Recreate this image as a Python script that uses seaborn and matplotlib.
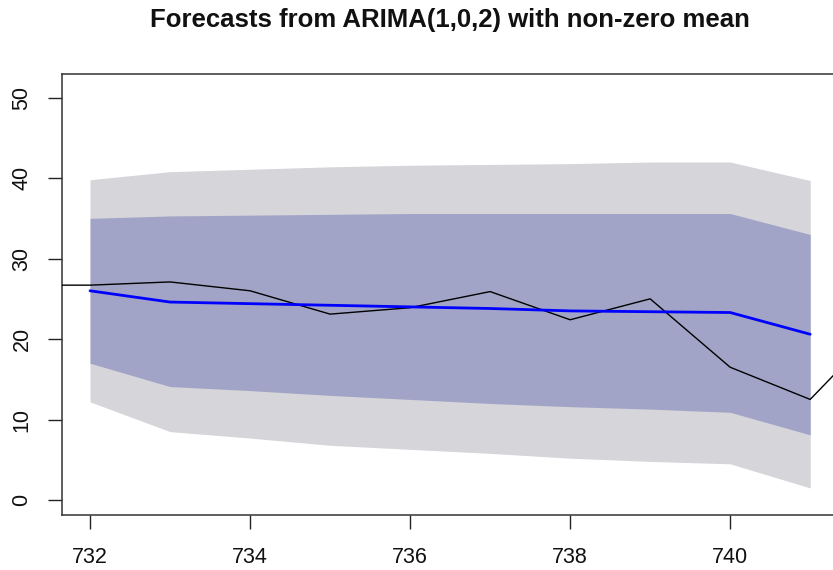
import matplotlib
matplotlib.use("Agg")
import matplotlib.pyplot as plt
import seaborn as sns
import pandas as pd

# Observed series
obs_time = [731, 732, 733, 734, 735, 736, 737, 738, 739, 740, 741, 742]
obs_value = [26.7, 26.7, 27.1, 26.0, 23.1, 23.9, 25.9, 22.4, 25.0, 16.5, 12.5, 22.8]

# Forecast horizon with point forecasts and prediction intervals
fc_time = [732, 733, 734, 735, 736, 737, 738, 739, 740, 741]
fc_mean = [26.0, 24.6, 24.4, 24.2, 24.0, 23.8, 23.5, 23.4, 23.3, 20.6]
lo80 = [17.0, 14.1, 13.6, 13.0, 12.5, 12.0, 11.6, 11.3, 10.9, 8.1]
hi80 = [35.0, 35.3, 35.4, 35.5, 35.6, 35.6, 35.6, 35.6, 35.6, 33.0]
lo95 = [12.2, 8.5, 7.7, 6.8, 6.3, 5.8, 5.2, 4.8, 4.5, 1.5]
hi95 = [39.8, 40.8, 41.1, 41.4, 41.6, 41.7, 41.8, 42.0, 42.0, 39.7]

x_ticks = [732, 734, 736, 738, 740]
y_ticks = [0, 10, 20, 30, 40, 50]

sns.set_style("white")
plt.rcParams["font.family"] = ["Liberation Sans", "DejaVu Sans"]

W, H = 833, 570
fig = plt.figure(figsize=(W / 100, H / 100), dpi=100)
left, right, top, bottom = 61.7, 839.0, 74.3, 515.0
ax = fig.add_axes([left / W, 1 - bottom / H, (right - left) / W, (bottom - top) / H])

obs = pd.DataFrame({"time": obs_time, "value": obs_value})
fc = pd.DataFrame({"time": fc_time, "mean": fc_mean,
                   "lo80": lo80, "hi80": hi80, "lo95": lo95, "hi95": hi95})

ax.fill_between(fc["time"], fc["lo95"], fc["hi95"], color="#d5d5da", linewidth=0, zorder=1)
ax.fill_between(fc["time"], fc["lo80"], fc["hi80"], color="#a1a4c6", linewidth=0, zorder=2)

sns.lineplot(data=obs, x="time", y="value", ax=ax, color="black", linewidth=1.0, zorder=3)
sns.lineplot(data=fc, x="time", y="mean", ax=ax, color="#0000ff", linewidth=2.0, zorder=4)

ax.set_xlim(731.646, 741.36)
ax.set_ylim(-1.86, 52.9)
ax.set_xticks(x_ticks)
ax.set_xticklabels([str(t) for t in x_ticks])
ax.set_yticks(y_ticks)
ax.set_yticklabels([str(t) for t in y_ticks], rotation=90, va="center")
ax.set_xlabel("")
ax.set_ylabel("")

ax.tick_params(axis="both", direction="out", length=10, width=1.0, color="#222222",
               labelsize=15.5, labelcolor="#111111", bottom=True, left=True)
ax.tick_params(axis="x", pad=13)
ax.tick_params(axis="y", pad=11)

for side in ["left", "bottom", "top", "right"]:
    ax.spines[side].set_visible(True)
    ax.spines[side].set_color("#333333")
    ax.spines[side].set_linewidth(1.1)

fig.text(0.5 * (left + right) / W, 1 - 20 / H,
         "Forecasts from ARIMA(1,0,2) with non-zero mean",
         ha="center", va="center", fontsize=18.5, fontweight="bold", color="#111111")

fig.savefig("out.png", dpi=100)
